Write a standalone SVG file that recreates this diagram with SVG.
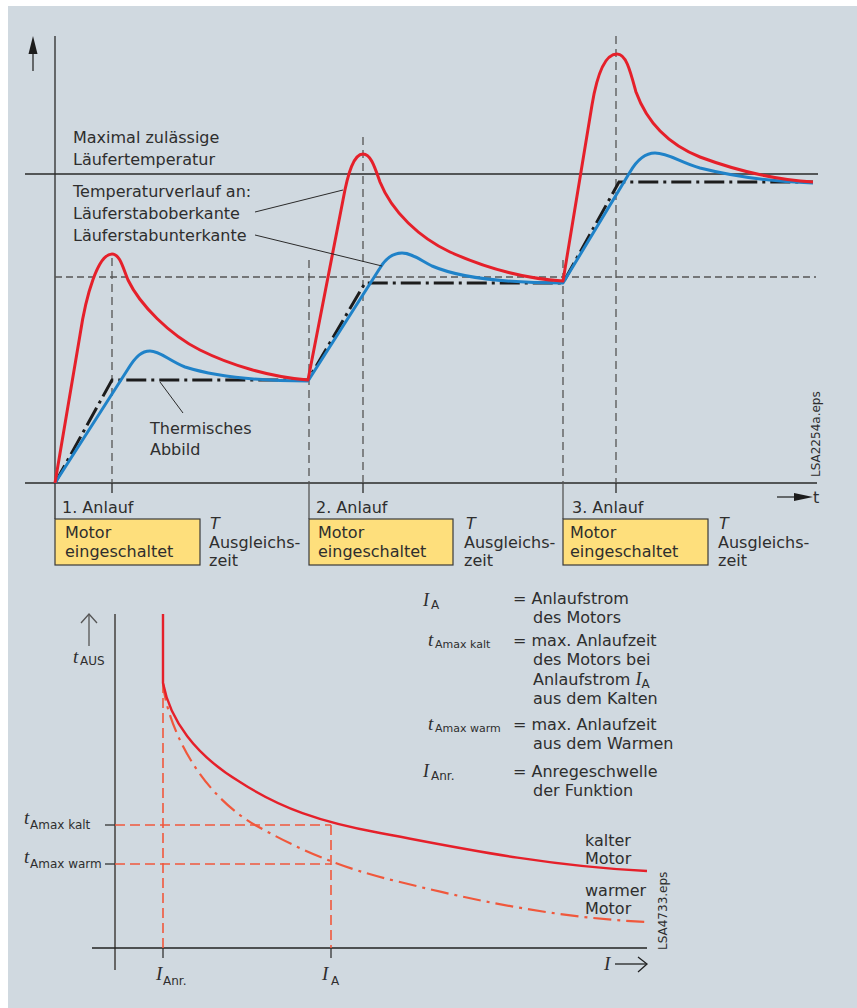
<svg xmlns="http://www.w3.org/2000/svg" width="857" height="1008" viewBox="0 0 857 1008">
<style>
text{font-family:"DejaVu Sans","Liberation Sans",sans-serif;font-size:16px;fill:#2e2e2e}
.sub{font-size:11px}
.sub12{font-size:12px}
.it{font-family:"Liberation Serif",serif;font-style:italic;font-size:19px}
.obl{font-style:oblique}
.ax{stroke:#2a2a2a;stroke-width:1.3;fill:none}
.gd{stroke:#555;stroke-width:1.3;fill:none;stroke-dasharray:8 5}
.hd{stroke:#555;stroke-width:1.3;fill:none;stroke-dasharray:7 4}
.red{stroke:#e5202a;stroke-width:3;fill:none;stroke-linejoin:round}
.blue{stroke:#1f82c8;stroke-width:3;fill:none;stroke-linejoin:round}
.dd{stroke:#1c1c1c;stroke-width:3;fill:none;stroke-dasharray:20 5 3 5}
.box{fill:#fedf7c;stroke:#3a3a3a;stroke-width:1.2}
.od{stroke:#f0583c;stroke-width:1.6;fill:none;stroke-dasharray:10 5}
.ored{stroke:#e5202a;stroke-width:2.4;fill:none}
.odd{stroke:#f0583c;stroke-width:2.2;fill:none;stroke-dasharray:18 6 3 6}
</style>
<rect x="8" y="6" width="849" height="1002" fill="#d0d9e0"/>

<g id="top-axes">
<line class="ax" x1="55" y1="36" x2="55" y2="519"/>
<line class="ax" x1="25" y1="483" x2="817" y2="483"/>
<line class="ax" x1="25" y1="174" x2="818" y2="174"/>
<line class="hd" x1="55" y1="277" x2="816" y2="277"/>
<line class="ax" x1="33" y1="71" x2="33" y2="50"/>
<polygon points="33,36 28.5,54 37.5,54" fill="#1c1c1c"/>
<line class="ax" x1="777" y1="497" x2="797" y2="497"/>
<polygon points="813,497 794,493 794,501" fill="#1c1c1c"/>
<text x="813" y="503">t</text>
</g>

<g id="guides">
<line class="gd" x1="112" y1="258" x2="112" y2="483"/>
<line class="gd" x1="363" y1="137" x2="363" y2="483"/>
<line class="gd" x1="616" y1="36" x2="616" y2="483"/>
<line class="gd" x1="309" y1="260" x2="309" y2="483"/>
<line class="gd" x1="563" y1="260" x2="563" y2="483"/>
<line stroke="#555" stroke-width="1.3" x1="309" y1="483" x2="309" y2="519"/>
<line stroke="#555" stroke-width="1.3" x1="563" y1="483" x2="563" y2="519"/>
<line class="ax" x1="112" y1="483" x2="112" y2="493"/>
<line class="ax" x1="363" y1="483" x2="363" y2="493"/>
<line class="ax" x1="616" y1="483" x2="616" y2="493"/>
</g>

<g id="curves-top">
<path class="dd" d="M55,483 L112,380 L308,380 L365,283 L563,283 L619,182 L813,182"/>
<path class="blue" d="M55,483 L128,369 C136,356 142,351 150,351 C160,351 168,360 185,367 C220,378 260,381 308,381 L380,268 C386,258 394,253 402,253 C412,253 420,260 432,266 C460,278 510,283 563,283 L630,172 C637,160 645,153 655,153 C668,153 680,162 700,168 C740,178 780,182 813,183"/>
<path class="red" d="M55,483 L80,335 C86,295 98,254 112,254 C120,254 123,268 128,280 C140,305 170,335 200,350 C230,365 270,377 308,380 L343,200 C348,172 354,154 363,154 C371,154 375,168 380,182 C392,212 420,238 450,252 C490,270 530,279 563,281 L592,105 C597,75 605,54 617,54 C626,54 630,70 636,92 C648,125 670,145 700,157 C740,172 780,180 813,182"/>
</g>

<g id="labels-top">
<text x="73" y="143">Maximal zulässige</text>
<text x="73" y="165">Läufertemperatur</text>
<text x="73" y="197">Temperaturverlauf an:</text>
<text x="73" y="219">Läuferstaboberkante</text>
<text x="73" y="241">Läuferstabunterkante</text>
<line stroke="#2a2a2a" stroke-width="1" x1="255" y1="212" x2="343" y2="190"/>
<line stroke="#2a2a2a" stroke-width="1" x1="255" y1="235" x2="382" y2="266"/>
<line stroke="#2a2a2a" stroke-width="1" x1="160" y1="382" x2="183" y2="413"/>
<text x="150" y="434">Thermisches</text>
<text x="150" y="455">Abbild</text>
<text transform="translate(820,477) rotate(-90)" class="sub12">LSA2254a.eps</text>
</g>

<g id="phase1">
<text x="62" y="513">1. Anlauf</text>
<rect class="box" x="55" y="519" width="145" height="46"/>
<text x="65" y="538">Motor</text>
<text x="65" y="557">eingeschaltet</text>
<text x="210" y="529" class="obl">T</text>
<text x="209" y="548">Ausgleichs-</text>
<text x="209" y="566">zeit</text>
</g>
<g id="phase2">
<text x="316" y="513">2. Anlauf</text>
<rect class="box" x="309" y="519" width="144" height="46"/>
<text x="318" y="538">Motor</text>
<text x="318" y="557">eingeschaltet</text>
<text x="466" y="529" class="obl">T</text>
<text x="464" y="548">Ausgleichs-</text>
<text x="464" y="566">zeit</text>
</g>
<g id="phase3">
<text x="572" y="513">3. Anlauf</text>
<rect class="box" x="563" y="519" width="145" height="46"/>
<text x="570" y="538">Motor</text>
<text x="570" y="557">eingeschaltet</text>
<text x="719" y="529" class="obl">T</text>
<text x="718" y="548">Ausgleichs-</text>
<text x="718" y="566">zeit</text>
</g>

<g id="bottom-axes">
<line stroke="#666" stroke-width="2" x1="115" y1="614" x2="115" y2="970"/>
<line stroke="#222" stroke-width="1.4" x1="92" y1="948" x2="647" y2="948"/>
<line stroke="#555" stroke-width="1.3" x1="89" y1="646" x2="89" y2="615"/>
<polyline points="81,623 89,614 97,623" fill="none" stroke="#555" stroke-width="1.3"/>
<text x="73" y="663" class="it">t</text><text x="80" y="665" class="sub12">AUS</text>
<line stroke="#222" stroke-width="1.3" x1="615" y1="964" x2="646" y2="964"/>
<polyline points="638,957 647,964 638,972" fill="none" stroke="#222" stroke-width="1.3"/>
<text x="604" y="970" class="it">I</text>
<line stroke="#333" stroke-width="1.3" x1="105" y1="825" x2="115" y2="825"/>
<line stroke="#333" stroke-width="1.3" x1="105" y1="864" x2="115" y2="864"/>
<line stroke="#333" stroke-width="1.3" x1="163" y1="948" x2="163" y2="958"/>
<line stroke="#333" stroke-width="1.3" x1="331" y1="948" x2="331" y2="958"/>
<text x="24" y="824" class="it">t</text><text x="30" y="829" class="sub12">Amax kalt</text>
<text x="24" y="863" class="it">t</text><text x="30" y="868" class="sub12">Amax warm</text>
<text x="156" y="980" class="it">I</text><text x="163" y="985" class="sub12">Anr.</text>
<text x="322" y="980" class="it">I</text><text x="331" y="985" class="sub12">A</text>
<text transform="translate(667,950) rotate(-90)" class="sub12">LSA4733.eps</text>
</g>

<g id="bottom-guides">
<line class="od" x1="115" y1="825" x2="331" y2="825"/>
<line class="od" x1="115" y1="864" x2="331" y2="864"/>
<line class="od" x1="163" y1="683" x2="163" y2="948"/>
<line class="od" x1="331" y1="825" x2="331" y2="948"/>
</g>

<g id="bottom-curves">
<path class="odd" d="M163,683 C166,720 195,790 255,825 C300,850 340,868 400,882 C480,902 560,918 647,922"/>
<path class="ored" d="M163,614 L163,683 C170,720 195,755 240,782 C280,808 320,822 380,833 C440,844 540,866 647,871"/>
<text x="585" y="846">kalter</text>
<text x="585" y="864">Motor</text>
<text x="585" y="896">warmer</text>
<text x="585" y="914">Motor</text>
</g>

<g id="legend">
<text x="423" y="606" class="it" style="font-size:18px">I</text><text x="431" y="609" class="sub12">A</text>
<text x="513" y="604">= Anlaufstrom</text>
<text x="533" y="623">des Motors</text>
<text x="428" y="646" class="it">t</text><text x="435" y="648" class="sub">Amax kalt</text>
<text x="513" y="646">= max. Anlaufzeit</text>
<text x="533" y="665">des Motors bei</text>
<text x="533" y="685">Anlaufstrom <tspan class="it" style="font-size:18px">I</tspan><tspan class="sub12" dy="3">A</tspan></text>
<text x="533" y="704">aus dem Kalten</text>
<text x="428" y="730" class="it">t</text><text x="435" y="732" class="sub">Amax warm</text>
<text x="513" y="730">= max. Anlaufzeit</text>
<text x="533" y="749">aus dem Warmen</text>
<text x="423" y="777" class="it" style="font-size:18px">I</text><text x="431" y="780" class="sub12">Anr.</text>
<text x="513" y="777">= Anregeschwelle</text>
<text x="533" y="796">der Funktion</text>
</g>
</svg>
